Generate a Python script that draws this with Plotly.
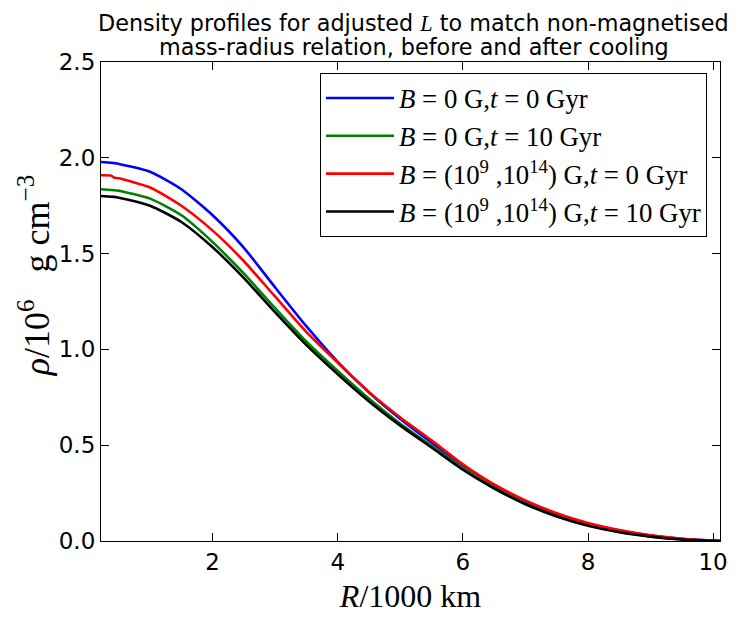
"""
Density profiles before and after cooling, magnetised vs non-magnetised
"""

import plotly.graph_objects as go

# radius in units of 1000 km
radius = [0.215, 0.38, 0.42, 0.5, 1.0, 1.5, 2.0, 2.5, 3.0, 3.5, 4.0, 4.5,
          5.0, 5.5, 6.0, 6.5, 7.0, 7.5, 8.0, 8.5, 9.0, 9.5, 10.0, 10.11]

# density in units of 10^6 g cm^-3
rho_b0_t0 = [1.978, 1.974, 1.972, 1.968, 1.927, 1.836, 1.700, 1.530, 1.323, 1.120,
             0.935, 0.775, 0.637, 0.514, 0.395, 0.292, 0.207, 0.140, 0.090, 0.054,
             0.028, 0.011, 0.002, 0.0]
rho_b0_t10 = [1.836, 1.832, 1.831, 1.828, 1.787, 1.700, 1.560, 1.395, 1.215, 1.040,
              0.887, 0.742, 0.612, 0.497, 0.380, 0.280, 0.196, 0.131, 0.083, 0.048,
              0.024, 0.009, 0.001, 0.0]
rho_b_t0 = [1.909, 1.907, 1.897, 1.893, 1.845, 1.750, 1.620, 1.460, 1.275, 1.090,
            0.930, 0.777, 0.645, 0.525, 0.400, 0.295, 0.212, 0.145, 0.094, 0.057,
            0.030, 0.012, 0.002, 0.0]
rho_b_t10 = [1.801, 1.797, 1.796, 1.792, 1.750, 1.665, 1.533, 1.372, 1.193, 1.022,
             0.870, 0.728, 0.602, 0.488, 0.372, 0.274, 0.192, 0.128, 0.080, 0.046,
             0.023, 0.008, 0.001, 0.0]

title_lines = [
    "Density profiles for adjusted <span style=\"font-family:'Liberation Serif'\">"
    "<i>L</i></span> to match non-magnetised",
    "mass-radius relation, before and after cooling",
]

MATH = "Liberation Serif"


def _label(b_text: str, t_text: str) -> str:
    return f"<i>B</i> = {b_text} G,<i>t</i> = {t_text} Gyr"


B_MAG = "(10<sup>9</sup> ,10<sup>14</sup>)"

series = [
    (rho_b0_t0, _label("0", "0"), "#0000ff"),
    (rho_b0_t10, _label("0", "10"), "#008000"),
    (rho_b_t0, _label(B_MAG, "0"), "#ff0000"),
    (rho_b_t10, _label(B_MAG, "10"), "#000000"),
]

fig = go.Figure()
for i, (values, name, color) in enumerate(series):
    fig.add_trace(
        go.Scatter(
            x=radius,
            y=values,
            mode="lines",
            name=name,
            legendgroup=f"g{i}",
            line=dict(color=color, width=2.6, shape="spline", smoothing=0.6),
        )
    )

axis_style = dict(
    showline=True,
    linecolor="black",
    linewidth=1.2,
    mirror="ticks",
    ticks="inside",
    ticklen=8,
    tickcolor="black",
    showgrid=False,
    zeroline=False,
    automargin=False,
    tickfont=dict(family="DejaVu Sans", size=23, color="black"),
)

fig.update_xaxes(
    range=[0.215, 10.11],
    tickvals=[2, 4, 6, 8, 10],
    title=dict(text="<i>R</i>/1000 km", font=dict(family=MATH, size=32, color="black"),
               standoff=10),
    **axis_style,
)
fig.update_yaxes(
    range=[0, 2.5],
    dtick=0.5,
    tickformat=".1f",
    **axis_style,
)

# y label and title as annotations so they sit where the reference has them
fig.add_annotation(
    text="<i>ρ</i>/10<sup>6</sup>&nbsp;&nbsp;&nbsp;g cm<sup>−3</sup>",
    font=dict(family=MATH, size=36, color="black"),
    textangle=-90,
    xref="paper", yref="paper",
    x=-0.108, y=0.555,
    xanchor="center", yanchor="middle",
    showarrow=False,
)
for line_text, y_pos in zip(title_lines, [1.082, 1.031]):
    fig.add_annotation(
        text=line_text,
        font=dict(family="DejaVu Sans", size=22.3, color="black"),
        xref="paper", yref="paper",
        x=0.505, y=y_pos,
        xanchor="center", yanchor="middle",
        showarrow=False,
    )

# the page puts the plot 8 px in from the window edge, so size it to fit
fig.update_layout(
    width=721,
    height=607,
    margin=dict(l=93, r=9, t=54, b=74),
    paper_bgcolor="white",
    plot_bgcolor="white",
    legend=dict(
        x=0.979,
        y=0.977,
        xanchor="right",
        yanchor="top",
        bordercolor="black",
        borderwidth=1,
        bgcolor="white",
        font=dict(family=MATH, size=26.8, color="black"),
        tracegroupgap=0,
        traceorder="grouped",
        itemwidth=68,
    ),
    showlegend=True,
)

fig.write_html("out.html")
